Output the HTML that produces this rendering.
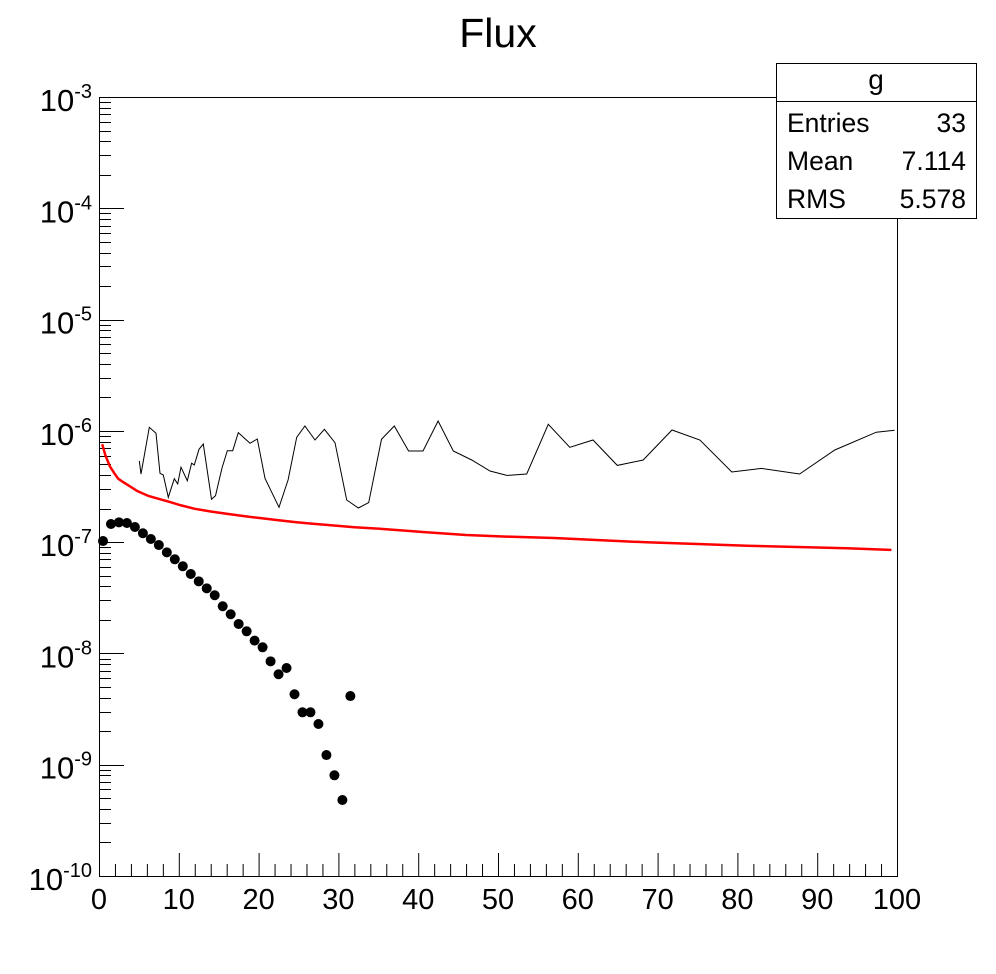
<!DOCTYPE html>
<html><head><meta charset="utf-8"><style>
html,body{margin:0;padding:0;background:#fff;}
svg{display:block;font-family:"Liberation Sans",sans-serif;}
</style></head><body>
<svg id="c" width="996" height="974" viewBox="0 0 996 974" xmlns="http://www.w3.org/2000/svg">
<rect width="996" height="974" fill="#fff"/>
<text x="498" y="47" font-size="41" text-anchor="middle">Flux</text>
<g id="axes"></g>
<g id="plot"></g>
<g>
<rect x="776.5" y="63.5" width="200" height="155" fill="#fff" stroke="#000" stroke-width="1"/>
<line x1="776.5" y1="101.5" x2="976.5" y2="101.5" stroke="#000"/>
<text x="876" y="89" font-size="28" text-anchor="middle">g</text>
<text x="787" y="132" font-size="26.5">Entries</text>
<text x="966" y="132" font-size="26.5" text-anchor="end">33</text>
<text x="787" y="170" font-size="26.5">Mean</text>
<text x="966" y="170" font-size="26.5" text-anchor="end">7.114</text>
<text x="787" y="208" font-size="26.5">RMS</text>
<text x="966" y="208" font-size="26.5" text-anchor="end">5.578</text>
</g>
</svg>
<script>
// data (y values as log10)
const dotX = [0.5,1.5,2.5,3.5,4.5,5.5,6.5,7.5,8.5,9.5,10.5,11.5,12.5,13.5,14.5,15.5,16.5,17.5,18.5,19.5,20.5,21.5,22.5,23.5,24.5,25.5,26.5,27.5,28.5,29.5,30.5,31.5];
const dotLogY = [-6.99,-6.837,-6.822,-6.828,-6.864,-6.92,-6.972,-7.026,-7.092,-7.154,-7.217,-7.286,-7.352,-7.415,-7.477,-7.576,-7.648,-7.735,-7.801,-7.885,-7.945,-8.071,-8.187,-8.131,-8.367,-8.529,-8.529,-8.634,-8.913,-9.095,-9.317,-8.383];
const redX = [0.4,0.8,1.38,1.9,2.4,3.0,3.7,4.8,6.2,7.4,8.7,10.3,12,14,16.2,18.3,20.4,22.5,24.6,26.6,28.7,32,36,41,46,51,57,63,68.6,75,81.2,87.5,93.7,99.3];
const redLogY = [-6.12,-6.22,-6.32,-6.38,-6.43,-6.46,-6.49,-6.54,-6.585,-6.61,-6.636,-6.67,-6.70,-6.725,-6.747,-6.767,-6.786,-6.803,-6.82,-6.833,-6.846,-6.866,-6.884,-6.911,-6.936,-6.95,-6.963,-6.983,-7.001,-7.017,-7.032,-7.044,-7.055,-7.07];
const lineX = [5.05,5.26,6.3,7.14,7.64,8.06,8.69,9.44,9.86,10.28,11.07,11.6,11.94,12.53,13.07,14.1,14.6,15.4,16.08,16.75,17.46,18.92,19.84,20.8,22.56,23.7,24.77,25.8,27.07,28.24,29.58,31.04,32.5,33.8,35.4,37,38.8,40.6,42.5,44.4,46.7,49,51.1,53.6,56.3,59,61.9,64.95,68.2,71.8,75.3,79.3,83.05,87.8,92.2,97.4,99.7];
const lineLogY = [-6.271,-6.388,-5.968,-6.022,-6.381,-6.397,-6.597,-6.43,-6.477,-6.327,-6.448,-6.291,-6.307,-6.166,-6.118,-6.615,-6.583,-6.337,-6.178,-6.178,-6.016,-6.112,-6.073,-6.426,-6.687,-6.441,-6.058,-5.956,-6.082,-5.986,-6.106,-6.621,-6.693,-6.645,-6.076,-5.956,-6.181,-6.181,-5.911,-6.181,-6.262,-6.361,-6.40,-6.388,-5.941,-6.148,-6.082,-6.31,-6.262,-5.992,-6.082,-6.37,-6.337,-6.388,-6.172,-6.012,-5.995];
const xTicks = [0,10,20,30,40,50,60,70,80,90,100];
const yExps = [-3,-4,-5,-6,-7,-8,-9,-10];

const NS="http://www.w3.org/2000/svg";
const X0=99,X1=897,Y0=876,Y1=97;
const sx=v=>X0+(v-0)/(100-0)*(X1-X0);
const sy=l=>Y1+(-3-l)/7*(Y0-Y1);
function mk(tag,attrs,parent){const e=document.createElementNS(NS,tag);for(const k in attrs)e.setAttribute(k,attrs[k]);parent.appendChild(e);return e;}
const axes=document.getElementById('axes'), plot=document.getElementById('plot');

const frame=mk('rect',{x:X0+0.5,y:Y1+0.5,width:X1-X0,height:Y0-Y1,fill:'none',stroke:'#000','stroke-width':1},axes);



for(let v=0;v<=100;v+=2){
  const major=v%10===0;
  const t=mk('line',{x1:sx(v)+0.5,x2:sx(v)+0.5,y1:Y0,y2:Y0-(major?23:12),stroke:'#000'},axes);
  
  
}
xTicks.forEach(v=>{
  const t=mk('text',{x:sx(v),y:909,'font-size':29,'text-anchor':'middle'},axes);
  t.textContent=String(v);
  
  
});
for(let e=-10;e<-3;e++){
  for(let m=1;m<10;m++){
    const l=e+Math.log10(m);
    const y=Math.round(sy(l))+0.5;
    const t=mk('line',{x1:X0,x2:X0+(m===1?25:12),y1:y,y2:y,stroke:'#000'},axes);
    
    
  }
}
yExps.forEach(e=>{
  const y=sy(e);
  const t=mk('text',{x:92,y:y+14,'font-size':31,'text-anchor':'end'},axes);
  
  
  const b=mk('tspan',{},t);b.textContent='10';
  const s=mk('tspan',{dy:-13,'font-size':20},t);s.textContent=String(e);
});

let d=lineX.map((x,i)=>(i?'L':'M')+sx(x).toFixed(1)+','+sy(lineLogY[i]).toFixed(1)).join('');
const pl=mk('path',{d:d,fill:'none',stroke:'#000','stroke-width':1},plot);


d=redX.map((x,i)=>(i?'L':'M')+sx(x).toFixed(1)+','+sy(redLogY[i]).toFixed(1)).join('');
const rl=mk('path',{d:d,fill:'none',stroke:'#f00','stroke-width':2.5},plot);


dotX.forEach((x,i)=>{
  const c=mk('circle',{cx:sx(x),cy:sy(dotLogY[i]),r:5,fill:'#000'},plot);
  
  
});
</script>
</body></html>
